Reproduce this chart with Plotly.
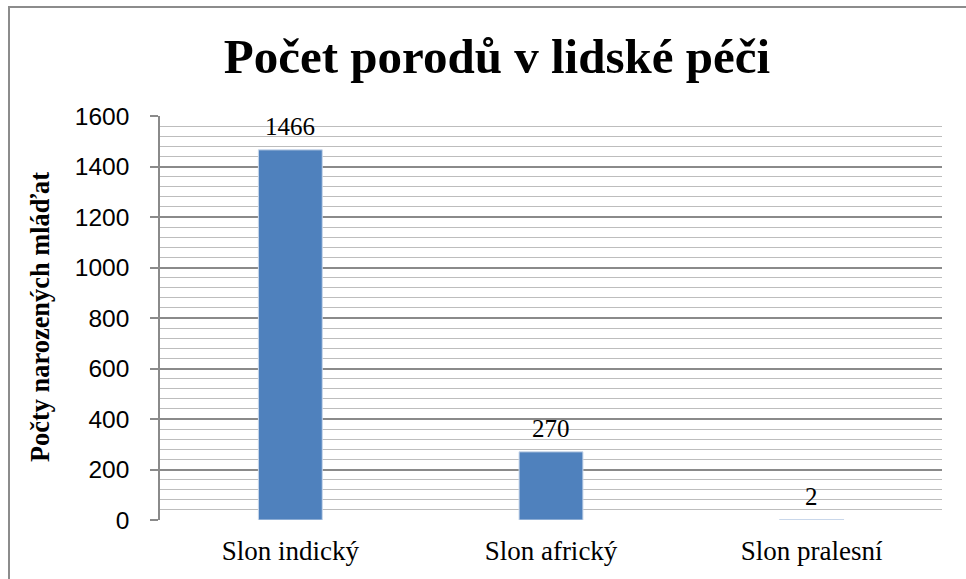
import plotly.graph_objects as go

categories = ["Slon indický", "Slon africký", "Slon pralesní"]
values = [1466, 270, 2]
title_text = "Počet porodů v lidské péči"
y_title = "Počty narozených mláďat"

serif = "Liberation Serif, Times New Roman, serif"
sans = "Liberation Sans, Arial, sans-serif"

fig = go.Figure()
fig.add_trace(go.Bar(
    x=categories, y=values,
    marker=dict(color="#4F81BD", line=dict(color="#C9D7EA", width=1)),
    cliponaxis=False,
))

for c, v in zip(categories, values):
    fig.add_annotation(x=c, y=v, text=str(v), showarrow=False,
                       yanchor="middle", yshift=23,
                       font=dict(family=serif, size=25, color="#000000"))

L, R, T, B = 160, 24, 116, 59
W, H = 966, 579
pw = W - L - R
ph = H - T - B

fig.add_annotation(xref="paper", yref="paper",
                   x=(40 - L) / pw, y=(H - B - 317) / ph,
                   text="<b>" + y_title + "</b>", textangle=-90, showarrow=False,
                   xanchor="center", yanchor="middle",
                   font=dict(family=serif, size=26.4, color="#000000"))

fig.update_layout(
    width=W, height=H,
    margin=dict(l=L, r=R, t=T, b=B, autoexpand=False),
    paper_bgcolor="white", plot_bgcolor="white",
    bargap=0.755,
    showlegend=False,
    title=dict(text="<b>" + title_text + "</b>", x=497 / W, xanchor="center",
               y=1 - 56 / H, yanchor="middle",
               font=dict(family=serif, size=49, color="#000000")),
    xaxis=dict(showgrid=False, tickfont=dict(family=serif, size=27, color="#000000"),
               ticks="", showline=False, zeroline=False, automargin=False,
               ticklabelstandoff=12),
    yaxis=dict(range=[0, 1600], dtick=200, tick0=0, automargin=False,
               showgrid=True, gridcolor="#8A8A8A", gridwidth=1.5,
               minor=dict(dtick=40, showgrid=True, gridcolor="#BDBDBD", gridwidth=1.2),
               ticks="outside", ticklen=8, tickcolor="#8A8A8A", tickwidth=1.5,
               showline=True, linecolor="#8A8A8A", linewidth=1.5,
               zeroline=False, ticklabelstandoff=16,
               tickfont=dict(family=sans, size=24.5, color="#000000")),
    shapes=[dict(type="rect", xref="paper", yref="paper",
                 x0=(9 - L) / pw, x1=(980 - L) / pw,
                 y0=(H - B - 600) / ph, y1=(H - B - 7) / ph,
                 line=dict(color="#8C8C8C", width=2), layer="below")],
)

fig.write_html("out.html", config={"displayModeBar": False},
               post_script="document.body.style.margin='0px';")
